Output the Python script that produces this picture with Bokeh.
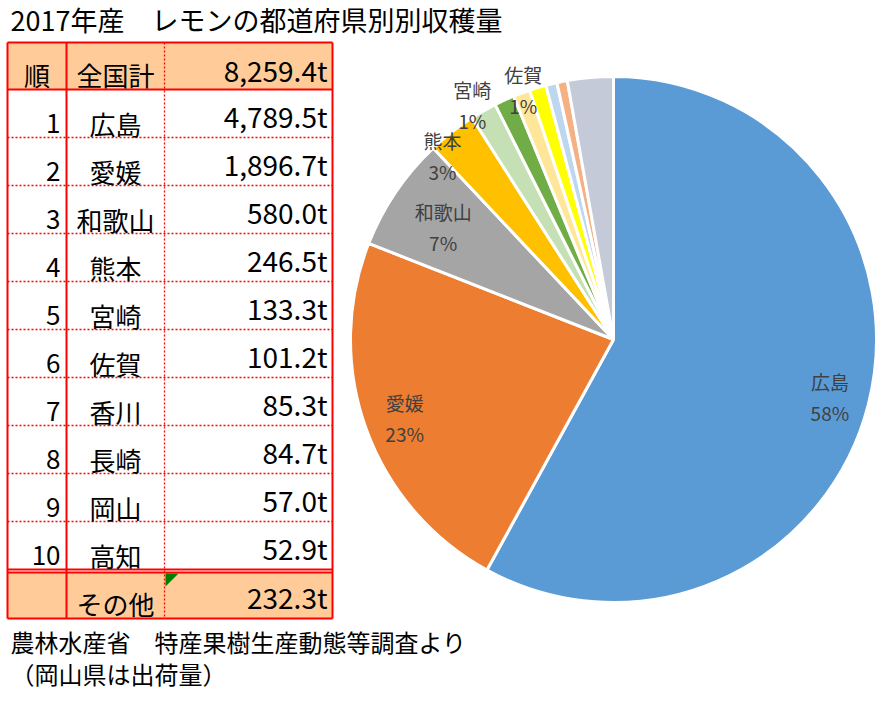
import math
from bokeh.plotting import figure
from bokeh.models import ColumnDataSource, Range1d
from bokeh.core.properties import value
from bokeh.embed import file_html
from bokeh.resources import INLINE

# ---------------- data ----------------
title = "2017年産　レモンの都道府県別別収穫量"
note_lines = ["農林水産省　特産果樹生産動態等調査より", "（岡山県は出荷量）"]

rank_header = "順"
total_label = "全国計"
total_tons = 8259.4
ranks = ["1", "2", "3", "4", "5", "6", "7", "8", "9", "10"]
prefs = ["広島", "愛媛", "和歌山", "熊本", "宮崎", "佐賀", "香川", "長崎", "岡山", "高知"]
tons = [4789.5, 1896.7, 580.0, 246.5, 133.3, 101.2, 85.3, 84.7, 57.0, 52.9]
other_label = "その他"
other_tons = 232.3

slice_colors = ["#5B9BD5", "#ED7D31", "#A5A5A5", "#FFC000", "#C5E0B4", "#70AD47",
                "#FFE699", "#FFFF00", "#BDD7EE", "#F4B183", "#C4CAD8"]
pie_label_names = ["広島", "愛媛", "和歌山", "熊本", "宮崎", "佐賀"]
pie_label_pcts = ["58%", "23%", "7%", "3%", "1%", "1%"]

# ---------------- layout ----------------
W, H = 883, 704
FONT = "Noto Sans CJK JP"
RED = "#FF0000"
PEACH = "#FFCC99"


def Y(ypix):
    return H - ypix


p = figure(width=W, height=H, x_range=Range1d(0, W), y_range=Range1d(0, H),
           output_backend="svg", toolbar_location=None, min_border=0,
           x_axis_type=None, y_axis_type=None)
p.grid.visible = False
p.outline_line_color = None
p.background_fill_color = "white"
p.border_fill_color = "white"

# ---------------- table ----------------
col_x = [7, 66, 164, 332]
top = 42
head_bot = 89
row_h = 48
n = len(ranks)
rows_bot = head_bot + row_h * n
other_top = rows_bot + 3
other_bot = other_top + 46

# fills
p.quad(left=[col_x[0], col_x[0]], right=[col_x[3], col_x[3]],
       top=[Y(top), Y(other_top)], bottom=[Y(head_bot), Y(other_bot)],
       fill_color=PEACH, line_color=None)

# green error indicator triangle
tri = 13
p.patch([col_x[2] + 1, col_x[2] + 1 + tri, col_x[2] + 1],
        [Y(other_top + 1), Y(other_top + 1), Y(other_top + 1 + tri)],
        fill_color="#008000", line_color=None)

# dotted lines: row separators and column 2/3 separator
row_lines = [head_bot + row_h * k for k in range(1, n)]
p.segment(x0=[col_x[0]] * len(row_lines), x1=[col_x[3]] * len(row_lines),
          y0=[Y(v) for v in row_lines], y1=[Y(v) for v in row_lines],
          line_color=RED, line_width=1.3, line_dash="2 2")
p.segment(x0=[col_x[2]], x1=[col_x[2]], y0=[Y(top)], y1=[Y(other_bot)],
          line_color=RED, line_width=1.3, line_dash="2 2")

# solid lines
hs = [top, head_bot, rows_bot, other_top, other_bot]
p.segment(x0=[col_x[0]] * len(hs), x1=[col_x[3]] * len(hs),
          y0=[Y(v) for v in hs], y1=[Y(v) for v in hs],
          line_color=RED, line_width=2)
vs = [col_x[0], col_x[1], col_x[3]]
p.segment(x0=vs, x1=vs, y0=[Y(top)] * 3, y1=[Y(other_bot)] * 3,
          line_color=RED, line_width=2)

# table texts
bots = [head_bot + row_h * (k + 1) for k in range(n)]
rank_src = ColumnDataSource(dict(x=[60] * n, y=[Y(b - 14.5) for b in bots], t=ranks))
p.text(x="x", y="y", text="t", source=rank_src, text_align="right", text_baseline="middle",
       text_font=value(FONT), text_font_size=value("26px"), text_color="black")

name_src = ColumnDataSource(dict(
    x=[(col_x[0] + col_x[1]) / 2, 115] + [115] * n + [115],
    y=[Y(head_bot - 15.5), Y(head_bot - 15.5)] + [Y(b - 14) for b in bots] + [Y(other_bot - 15.5)],
    t=[rank_header, total_label] + prefs + [other_label]))
p.text(x="x", y="y", text="t", source=name_src, text_align="center", text_baseline="middle",
       text_font=value(FONT), text_font_size=value("26px"), text_color="black")

vals = [total_tons] + tons + [other_tons]
val_src = ColumnDataSource(dict(
    x=[327] * len(vals),
    y=[Y(head_bot - 20)] + [Y(b - 21.5) for b in bots] + [Y(other_bot - 22)],
    t=[f"{v:,.1f}t" for v in vals]))
p.text(x="x", y="y", text="t", source=val_src, text_align="right", text_baseline="middle",
       text_font=value(FONT), text_font_size=value("28px"), text_color="black")

# ---------------- pie ----------------
CX, CY, R = 613, 339, 263
pie_vals = tons + [other_tons]
tot = sum(pie_vals)
starts, ends = [], []
c = 0.0
for v in pie_vals:
    starts.append(c)
    c += v / tot
    ends.append(c)

pie_src = ColumnDataSource(dict(
    x=[CX] * len(pie_vals), y=[Y(CY)] * len(pie_vals),
    sa=[math.pi / 2 - 2 * math.pi * e for e in ends],
    ea=[math.pi / 2 - 2 * math.pi * s for s in starts],
    color=slice_colors))
p.wedge(x="x", y="y", radius=R, start_angle="sa", end_angle="ea", direction="anticlock",
        fill_color="color", line_color="white", line_width=3, source=pie_src)

# label placement (radial distance in px, angular shift in degrees)
label_r = [224, 223, 204, 251, 274, 265]
label_shift = [0.6, -0.6, -0.7, -5.0, -1.4, 4.6]
lx, ly_name, ly_pct = [], [], []
for i in range(len(pie_label_names)):
    mid = (starts[i] + ends[i]) / 2 * 360 + label_shift[i]
    a = math.radians(mid)
    x = CX + label_r[i] * math.sin(a)
    y = CY - label_r[i] * math.cos(a)
    lx.append(x)
    ly_name.append(Y(y - 15.5))
    ly_pct.append(Y(y + 15.5))
lab_src = ColumnDataSource(dict(x=lx + lx, y=ly_name + ly_pct, t=pie_label_names + pie_label_pcts))
p.text(x="x", y="y", text="t", source=lab_src, text_align="center", text_baseline="middle",
       text_font=value(FONT), text_font_size=value("19px"), text_color="#404040")

# ---------------- title & notes ----------------
p.text(x=[10], y=[Y(19)], text=[title], text_align="left", text_baseline="middle",
       text_font=value(FONT), text_font_size=value("27px"), text_color="black")
p.text(x=[10, 10], y=[Y(641), Y(673)], text=note_lines, text_align="left", text_baseline="middle",
       text_font=value(FONT), text_font_size=value("24px"), text_color="black")

open("out.html", "w").write(file_html(p, INLINE))
